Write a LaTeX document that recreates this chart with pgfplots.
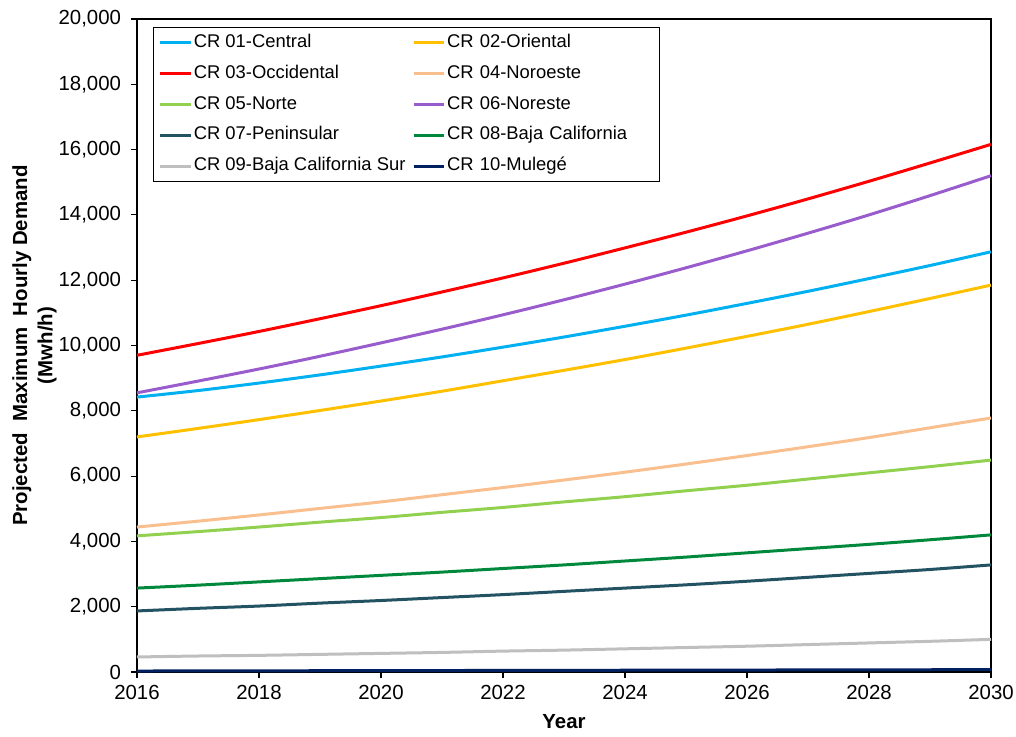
\documentclass[border=0pt]{standalone}
\usepackage{pgfplots}
\pgfplotsset{compat=1.18}
\usepackage{fontspec}
\setmainfont{Liberation Sans}

\definecolor{cCentral}{RGB}{0,176,240}
\definecolor{cOriental}{RGB}{255,192,0}
\definecolor{cOccidental}{RGB}{255,0,0}
\definecolor{cNoroeste}{RGB}{250,191,143}
\definecolor{cNorte}{RGB}{146,208,80}
\definecolor{cNoreste}{RGB}{153,92,204}
\definecolor{cPeninsular}{RGB}{35,82,98}
\definecolor{cBaja}{RGB}{0,136,60}
\definecolor{cBCS}{RGB}{191,191,191}
\definecolor{cMulege}{RGB}{0,32,96}

\begin{document}
\begin{tikzpicture}
\begin{axis}[
  scale only axis,
  width=640.5pt, height=489.75pt,
  xmin=2016, xmax=2030, ymin=0, ymax=20000,
  xtick={2016,2018,...,2030},
  ytick={0,2000,...,20000},
  tick pos=left, tick align=outside,
  major tick length=4.5pt,
  every tick/.style={black, line width=0.9pt},
  axis line style={line width=0.9pt},
  x tick label style={yshift=-2pt, /pgf/number format/.cd, set thousands separator={}, assume math mode=true},
  y tick label style={xshift=-4pt, /pgf/number format/.cd, 1000 sep={,}, assume math mode=true},
  scaled y ticks=false,
  tick label style={font=\fontsize{15.3}{18}\selectfont},
  xlabel={\textbf{Year}},
  ylabel={\textbf{Projected\ \ Maximum\ \ Hourly Demand}\\\textbf{(Mwh/h)}},
  every axis x label/.style={at={(axis description cs:0.5,-0.0766)}, anchor=center, font=\fontsize{15.3}{18}\selectfont},
  every axis y label/.style={at={(axis description cs:-0.120,0.5)}, rotate=90, anchor=center, align=center, font=\fontsize{15.3}{19}\selectfont},
  legend columns=2,
  legend cell align=left,
  legend image code/.code={\draw[line width=2.25pt,#1] (0pt,0pt) -- (23pt,0pt);},
  legend style={at={(0.0187,0.988)}, anchor=north west, draw=black, line width=0.75pt,
    font=\fontsize{13.8}{16}\selectfont, inner xsep=4pt, inner ysep=4.2pt, row sep=8.1pt,
    column sep=0pt,
    nodes={inner xsep=1pt, inner ysep=1pt, text height=10pt, text depth=3pt},
    /tikz/column 2/.style={column sep=4pt},
    /tikz/column 4/.style={nodes={text width=154pt}}},
  every axis plot/.append style={line width=2.25pt, mark=none, smooth},
  clip=false,
]
% CR 01-Central
\addplot[cCentral] coordinates {(2016,8420)(2017,8620)(2018,8850)(2019,9100)(2020,9370)(2021,9650)(2022,9950)(2023,10260)(2024,10590)(2025,10930)(2026,11290)(2027,11660)(2028,12050)(2029,12450)(2030,12870)};
\addlegendentry{CR 01-Central}
% CR 02-Oriental
\addplot[cOriental] coordinates {(2016,7200)(2017,7460)(2018,7730)(2019,8010)(2020,8300)(2021,8600)(2022,8920)(2023,9240)(2024,9570)(2025,9920)(2026,10280)(2027,10650)(2028,11040)(2029,11440)(2030,11850)};
\addlegendentry{CR 02-Oriental}
% CR 03-Occidental
\addplot[cOccidental] coordinates {(2016,9700)(2017,10060)(2018,10430)(2019,10820)(2020,11220)(2021,11640)(2022,12070)(2023,12520)(2024,12990)(2025,13470)(2026,13970)(2027,14490)(2028,15030)(2029,15590)(2030,16160)};
\addlegendentry{CR 03-Occidental}
% CR 04-Noroeste
\addplot[cNoroeste] coordinates {(2016,4440)(2017,4620)(2018,4810)(2019,5010)(2020,5210)(2021,5430)(2022,5650)(2023,5880)(2024,6120)(2025,6370)(2026,6630)(2027,6900)(2028,7180)(2029,7480)(2030,7780)};
\addlegendentry{CR 04-Noroeste}
% CR 05-Norte
\addplot[cNorte] coordinates {(2016,4170)(2017,4300)(2018,4440)(2019,4590)(2020,4730)(2021,4890)(2022,5040)(2023,5210)(2024,5370)(2025,5550)(2026,5720)(2027,5910)(2028,6100)(2029,6290)(2030,6490)};
\addlegendentry{CR 05-Norte}
% CR 06-Noreste
\addplot[cNoreste] coordinates {(2016,8550)(2017,8910)(2018,9280)(2019,9670)(2020,10080)(2021,10500)(2022,10940)(2023,11400)(2024,11880)(2025,12380)(2026,12900)(2027,13440)(2028,14000)(2029,14590)(2030,15200)};
\addlegendentry{CR 06-Noreste}
% CR 07-Peninsular
\addplot[cPeninsular] coordinates {(2016,1870)(2017,1950)(2018,2020)(2019,2110)(2020,2190)(2021,2280)(2022,2370)(2023,2470)(2024,2570)(2025,2670)(2026,2780)(2027,2900)(2028,3020)(2029,3140)(2030,3280)};
\addlegendentry{CR 07-Peninsular}
% CR 08-Baja California
\addplot[cBaja] coordinates {(2016,2570)(2017,2660)(2018,2760)(2019,2860)(2020,2960)(2021,3060)(2022,3170)(2023,3280)(2024,3400)(2025,3520)(2026,3650)(2027,3780)(2028,3910)(2029,4050)(2030,4200)};
\addlegendentry{CR 08-Baja California}
% CR 09-Baja California Sur
\addplot[cBCS] coordinates {(2016,460)(2017,490)(2018,510)(2019,540)(2020,570)(2021,600)(2022,640)(2023,670)(2024,710)(2025,750)(2026,790)(2027,840)(2028,890)(2029,940)(2030,1000)};
\addlegendentry{CR 09-Baja California Sur}
% CR 10-Mulegé
\addplot[cMulege] coordinates {(2016,30)(2017,33)(2018,36)(2019,39)(2020,42)(2021,45)(2022,48)(2023,51)(2024,54)(2025,57)(2026,60)(2027,63)(2028,66)(2029,69)(2030,72)};
\addlegendentry{CR 10-Mulegé}
\end{axis}
\pgfresetboundingbox
\path (-102.75pt,-48pt) rectangle (659.25pt,504pt);
\end{tikzpicture}
\end{document}
